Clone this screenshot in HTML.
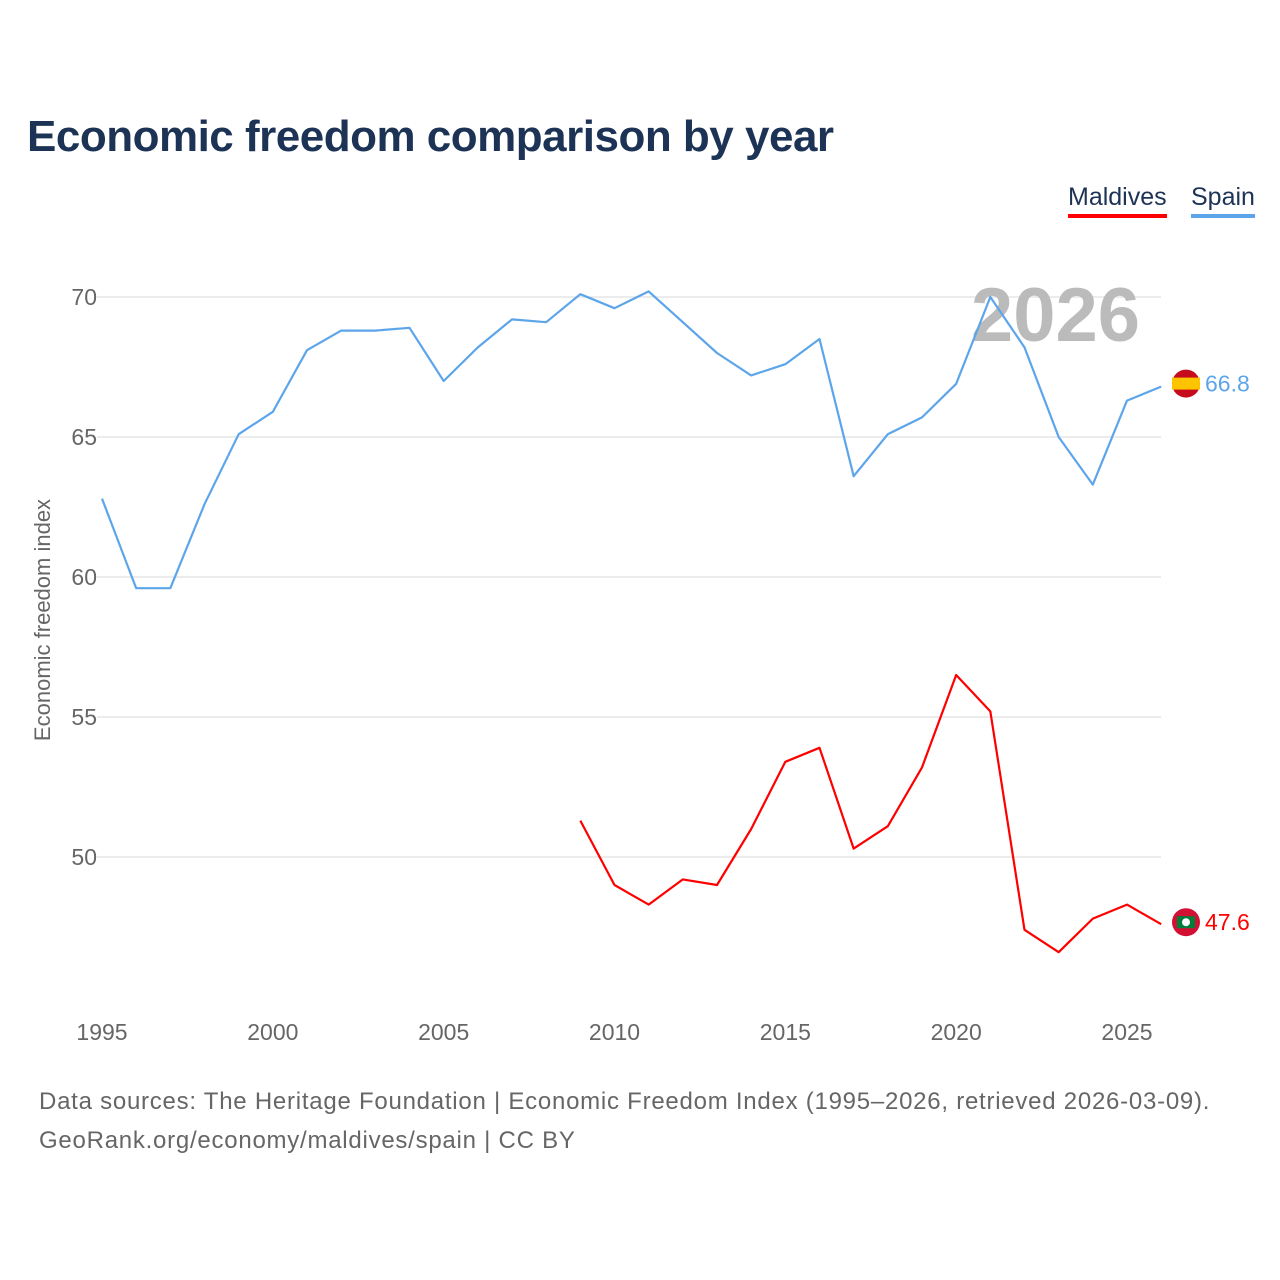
<!DOCTYPE html>
<html><head><meta charset="utf-8">
<style>
body{margin:0;width:1280px;height:1280px;background:#fff;font-family:"Liberation Sans",sans-serif;position:relative;overflow:hidden}
.title{position:absolute;left:27px;top:112px;font-size:44px;font-weight:bold;color:#1d3355;letter-spacing:-0.5px}
.leg{position:absolute;top:183px;font-size:25px;color:#1d3355;padding-bottom:2px}
.src{position:absolute;left:39px;font-size:24px;color:#666;letter-spacing:0.75px}
</style></head><body>
<div class="title">Economic freedom comparison by year</div>
<div class="leg" style="left:1068px;border-bottom:4px solid #f00">Maldives</div>
<div class="leg" style="left:1191px;border-bottom:4px solid #5da5ea">Spain</div>
<svg id="chart" width="1280" height="1280" style="position:absolute;left:0;top:0"></svg>
<div class="src" style="top:1088px">Data sources: The Heritage Foundation | Economic Freedom Index (1995–2026, retrieved 2026-03-09).</div>
<div class="src" style="top:1127px">GeoRank.org/economy/maldives/spain | CC BY</div>
<script>
const spainYears=[1995,1996,1997,1998,1999,2000,2001,2002,2003,2004,2005,2006,2007,2008,2009,2010,2011,2012,2013,2014,2015,2016,2017,2018,2019,2020,2021,2022,2023,2024,2025,2026];
const spainValues=[62.8,59.6,59.6,62.6,65.1,65.9,68.1,68.8,68.8,68.9,67.0,68.2,69.2,69.1,70.1,69.6,70.2,69.1,68.0,67.2,67.6,68.5,63.6,65.1,65.7,66.9,70.0,68.2,65.0,63.3,66.3,66.8];
const maldivesYears=[2009,2010,2011,2012,2013,2014,2015,2016,2017,2018,2019,2020,2021,2022,2023,2024,2025,2026];
const maldivesValues=[51.3,49.0,48.3,49.2,49.0,51.0,53.4,53.9,50.3,51.1,53.2,56.5,55.2,47.4,46.6,47.8,48.3,47.6];
const yTicks=[50,55,60,65,70];
const xTicks=[1995,2000,2005,2010,2015,2020,2025];
const NS="http://www.w3.org/2000/svg";
const svg=document.getElementById('chart');
const x=y=>102+(y-1995)*(1025/30);
const yy=v=>857-(v-50)*28;
function mk(t,a,txt){const e=document.createElementNS(NS,t);for(const k in a)e.setAttribute(k,a[k]);if(txt!==undefined)e.textContent=txt;svg.appendChild(e);return e;}
yTicks.forEach(v=>{
 const g=mk('line',{x1:97,x2:1161,y1:yy(v),y2:yy(v),stroke:'#e6e6e6','stroke-width':1.5});
 
 
 const t=mk('text',{x:97,y:yy(v)+8,'text-anchor':'end','font-size':23,fill:'#666','font-family':'Liberation Sans'},v);
 
 
});
xTicks.forEach(v=>{
 const t=mk('text',{x:x(v),y:1040,'text-anchor':'middle','font-size':23,fill:'#666','font-family':'Liberation Sans'},v);
 
 
});
const yt=mk('text',{x:0,y:0,transform:'translate(50,620) rotate(-90)','text-anchor':'middle','font-size':22,fill:'#666','font-family':'Liberation Sans'},'Economic freedom index');


const yr=mk('text',{x:1140,y:341,'text-anchor':'end','font-size':76,'font-weight':'bold',fill:'#bbb','font-family':'Liberation Sans'},'2026');


function line(years,vals,color,name){
 const p=mk('polyline',{points:years.map((yv,i)=>x(yv)+','+yy(vals[i])).join(' '),fill:'none',stroke:color,'stroke-width':2.2,'stroke-linejoin':'round'});
 
 
}
line(spainYears,spainValues,'#5da5ea','spain-line');
line(maldivesYears,maldivesValues,'#f00','maldives-line');
function endLabel(vals,color,name,flag,dy){
 const v=vals[vals.length-1],cy=yy(v)+dy,cx=1186;
 const c=mk('circle',{cx:cx,cy:cy,r:14,fill:flag==='es'?'#c60b1e':'#d21034'});
 
 
 if(flag==='es'){const r=mk('rect',{x:cx-14,y:cy-6,width:28,height:12,fill:'#ffc400'});}
 else{const r=mk('rect',{x:cx-9,y:cy-6,width:18,height:12,fill:'#007e3a'});
  const m=mk('circle',{cx:cx,cy:cy,r:4,fill:'#fff'});}
 const t=mk('text',{x:1205,y:cy+8,'font-size':23,fill:color,'font-family':'Liberation Sans'},v.toFixed(1));
 
 
}
endLabel(spainValues,'#5da5ea','spain','es',-3);
endLabel(maldivesValues,'#f00','maldives','mv',-2);
</script>
</body></html>
